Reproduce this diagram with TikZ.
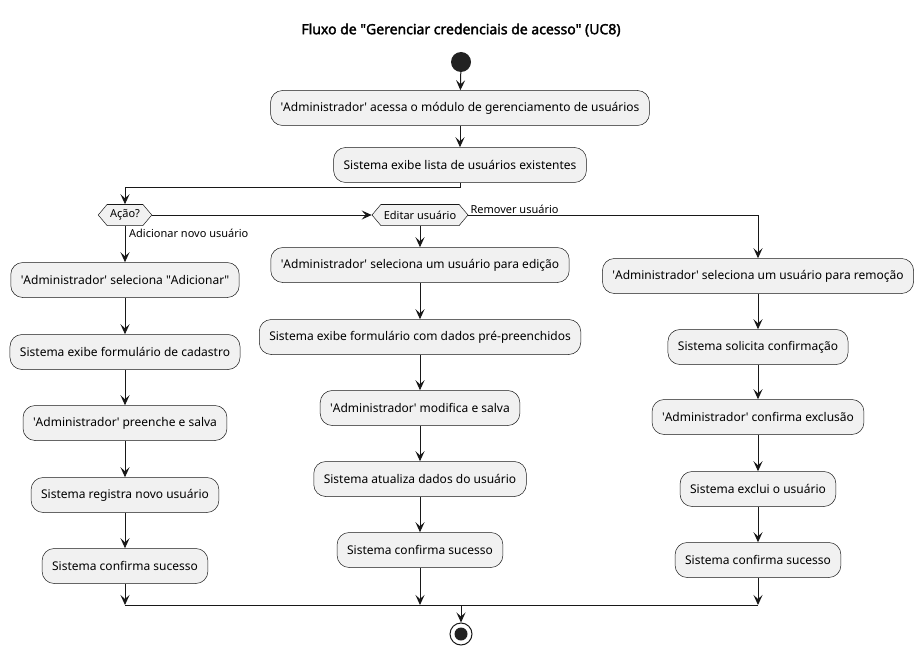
\documentclass[tikz,border=0pt]{standalone}
\usepackage{fontspec}
\setmainfont{Noto Sans}[Ligatures=TeXOff]
\newfontfamily\titlefont{Noto Sans}[FakeBold=2.2,Ligatures=TeXOff]
\newcommand{\sq}{\textquotesingle}
\newcommand{\dq}{\textquotedbl}
\usetikzlibrary{arrows.meta,shapes.symbols}
\definecolor{ln}{HTML}{181818}
\definecolor{bg}{HTML}{F1F1F1}
\definecolor{dot}{HTML}{222222}
\begin{document}
\begin{tikzpicture}[x=1pt,y=-1pt,
  act/.style={draw=ln,fill=bg,line width=0.5pt,rounded corners=12pt,minimum height=35pt,inner xsep=10pt,font=\fontsize{12}{14}\selectfont},
  hex/.style={draw=ln,fill=bg,line width=0.5pt,signal,signal to=west and east,signal pointer angle=100,minimum height=21pt,inner xsep=3pt,inner ysep=2pt,font=\fontsize{11}{13}\selectfont},
  flow/.style={draw=ln,line width=1pt,-{Stealth[length=10pt,width=9pt,inset=4pt]}},
  plain/.style={draw=ln,line width=1pt},
  lbl/.style={font=\fontsize{11}{13}\selectfont,inner sep=1pt}]
\useasboundingbox (0,0) rectangle (923,655);
\node[font=\titlefont\fontsize{14}{16}\selectfont] (title) at (461,30) {Fluxo de \dq Gerenciar credenciais de acesso\dq{} (UC8)};
\node[circle,fill=dot,minimum size=20pt,inner sep=0] (start) at (461,62) {};
\node[act] (b1) at (460,108) {\sq Administrador\sq{} acessa o módulo de gerenciamento de usuários};
\node[act] (b2) at (460,165) {Sistema exibe lista de usuários existentes};
\node[hex] (aca) at (125,215) {Ação?};
\node[hex] (edi) at (420,215) {Editar usuário};
\node[act] (l1) at (125,280) {\sq Administrador\sq{} seleciona \dq Adicionar\dq};
\node[act] (l2) at (125,352) {Sistema exibe formulário de cadastro};
\node[act] (l3) at (125,423) {\sq Administrador\sq{} preenche e salva};
\node[act] (l4) at (125,495) {Sistema registra novo usuário};
\node[act] (l5) at (125,566) {Sistema confirma sucesso};
\node[act] (m1) at (420,265) {\sq Administrador\sq{} seleciona um usuário para edição};
\node[act] (m2) at (420,337) {Sistema exibe formulário com dados pré-preenchidos};
\node[act] (m3) at (420,408) {\sq Administrador\sq{} modifica e salva};
\node[act] (m4) at (420,479) {Sistema atualiza dados do usuário};
\node[act] (m5) at (420,550) {Sistema confirma sucesso};
\node[act] (r1) at (758,276) {\sq Administrador\sq{} seleciona um usuário para remoção};
\node[act] (r2) at (758,347) {Sistema solicita confirmação};
\node[act] (r3) at (758,417) {\sq Administrador\sq{} confirma exclusão};
\node[act] (r4) at (758,489) {Sistema exclui o usuário};
\node[act] (r5) at (758,560) {Sistema confirma sucesso};
\node[circle,draw=ln,line width=1pt,fill=white,minimum size=22pt,inner sep=0] (stop) at (461,634) {};
\node[circle,fill=dot,minimum size=13pt,inner sep=0] (stopdot) at (stop.center) {};
\coordinate (split) at (460,188);
\coordinate (jl) at (125,605);
\coordinate (jm) at (420,605);
\coordinate (jr) at (758,605);
\coordinate (jc) at (461,605);
\draw[flow] (start) -- (b1);
\draw[flow] (b1) -- (b2);
\draw[plain] (b2.south) -- (split);
\draw[flow] (split) -| (aca.north);
\draw[flow] (aca.east) -- (edi.west);
\draw[flow] (edi.east) -| (r1.north);
\node[lbl,anchor=south west] (lrem) at ([xshift=1pt]edi.east) {Remover usuário};
\node[lbl,anchor=north west] (ladd) at ([xshift=3pt,yshift=-2pt]aca.south) {Adicionar novo usuário};
\draw[flow] (aca.south) -- (l1.north);
\draw[flow] (l1) -- (l2);
\draw[flow] (l2) -- (l3);
\draw[flow] (l3) -- (l4);
\draw[flow] (l4) -- (l5);
\draw[flow] (edi.south) -- (m1.north);
\draw[flow] (m1) -- (m2);
\draw[flow] (m2) -- (m3);
\draw[flow] (m3) -- (m4);
\draw[flow] (m4) -- (m5);
\draw[flow] (r1) -- (r2);
\draw[flow] (r2) -- (r3);
\draw[flow] (r3) -- (r4);
\draw[flow] (r4) -- (r5);
\draw[flow] (l5.south) -- (jl);
\draw[flow] (m5.south) -- (jm);
\draw[flow] (r5.south) -- (jr);
\draw[plain] (jl) -- (jr);
\draw[flow] (jc) -- (stop.north);
\end{tikzpicture}
\end{document}
